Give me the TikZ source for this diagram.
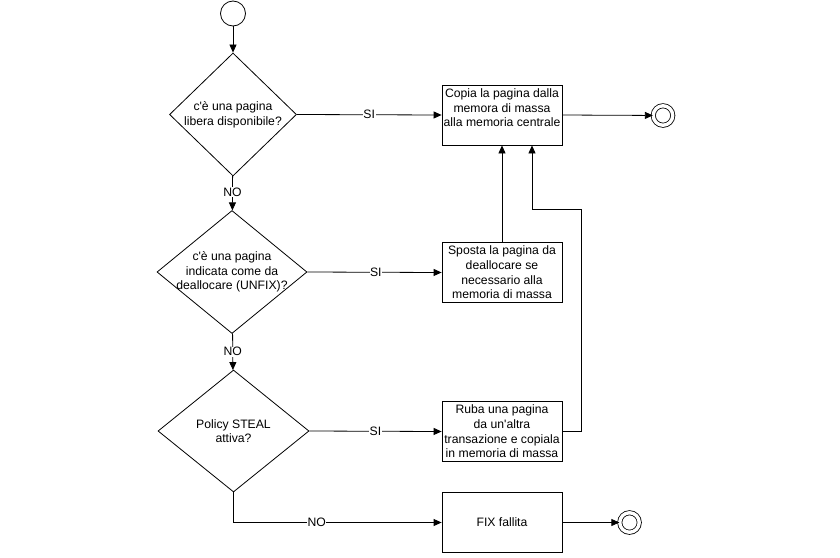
\documentclass[tikz,border=0pt]{standalone}
\usepackage{fontspec}
\setmainfont{Liberation Sans}
\usetikzlibrary{shapes.geometric, arrows.meta, positioning}

\tikzset{
  decision/.style={draw, diamond, inner sep=0pt, line width=0.8pt},
  process/.style={draw, rectangle, line width=0.8pt, minimum width=120pt, minimum height=60pt, inner sep=1pt, align=center},
  txt/.style={font=\fontsize{12.2}{14.7}\selectfont, align=center},
  tag/.style={font=\fontsize{12.2}{14.7}\selectfont, fill=white, inner sep=0.5pt},
  flow/.style={line width=0.8pt, -{Triangle[length=8pt,width=7pt]}},
  final/.style={draw, circle, double, double distance=3.4pt, line width=0.8pt, minimum size=19.5pt, inner sep=0pt}
}

\begin{document}
\begin{tikzpicture}[x=1pt, y=-1pt]
\useasboundingbox (0,0) rectangle (840,557);
\fill [white] (0,0) rectangle (840,557);

% start
\node at (233,13.5) [draw, circle, line width=0.8pt, minimum size=25pt, inner sep=0pt] (start) {};

% decisions
\node at (233,114.5) [decision, minimum width=127pt, minimum height=123pt] (free) {};
\node at (233,114.5) [txt] (freetxt) {c\textquotesingle è una pagina\\libera disponibile?};
\node at (232,272) [decision, minimum width=150pt, minimum height=123pt] (unfix) {};
\node at (232,272) [txt] (unfixtxt) {c\textquotesingle è una pagina\\indicata come da\\deallocare (UNFIX)?};
\node at (233.5,431) [decision, minimum width=151pt, minimum height=122pt] (steal) {};
\node at (233.5,431) [txt] (stealtxt) {Policy STEAL\\attiva?};

% actions
\node at (502,115) [process, txt, inner sep=0pt] (copy) {Copia la pagina dalla\\memora di massa\\alla memoria centrale\\ };
\node at (502,272.5) [process, txt] (move) {Sposta la pagina da\\deallocare se\\necessario alla\\memoria di massa};
\node at (502,431.5) [process, txt] (rob) {Ruba una pagina\\da un\textquotesingle altra\\transazione e copiala\\in memoria di massa};
\node at (502,522.5) [process, txt] (fail) {FIX fallita};

% ends
\node at (663,115.5) [final] (endok) {};
\node at (629.5,522.5) [final] (endko) {};

\coordinate (turn) at (581,209);

\draw [flow] (start) -- (free);
\draw [flow] (free) -- node [tag, pos=0.46] {NO} (unfix);
\draw [flow] (unfix) -- node [tag, pos=0.5] {NO} (steal);
\draw [flow] (free.east) -- node [tag] {SI} (copy.west);
\draw [flow] (unfix.east) -- node [tag, pos=0.51] {SI} (move.west);
\draw [flow] (steal.east) -- node [tag] {SI} (rob.west);
\draw [flow] (steal.south) |- node [tag, pos=0.7] {NO} (fail.west);
\draw [flow] (copy.east) -- (endok);
\draw [flow] (fail.east) -- (endko);
\draw [flow] (move.north) -- (move.north |- copy.south);
\draw [flow] (rob.east) -| (turn) -| ([xshift=30pt]copy.south);
\end{tikzpicture}
\end{document}
